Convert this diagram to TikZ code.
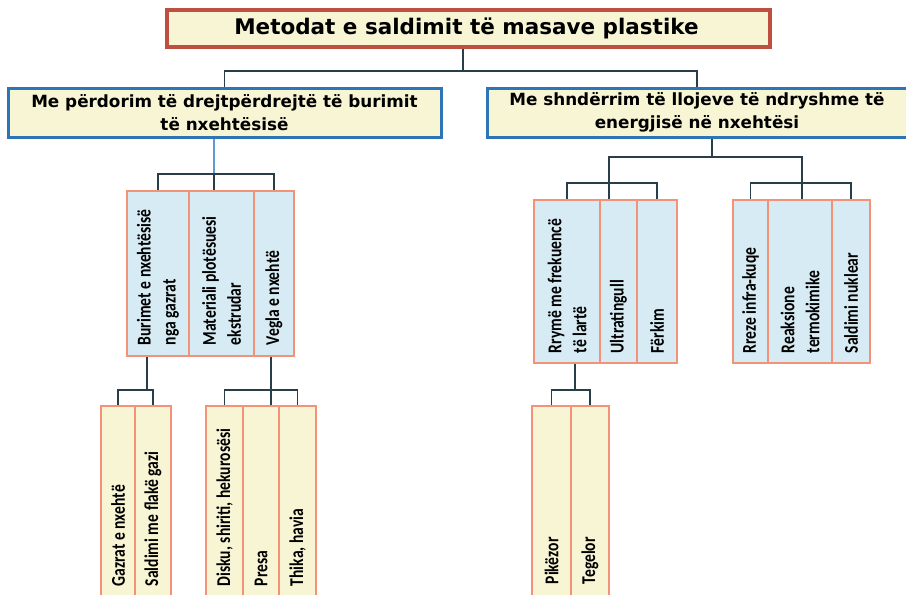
\documentclass[tikz,border=0pt]{standalone}
\usepackage{fontspec}
\usepackage{tikz}
\newfontfamily\headfont{DejaVu Sans}
\newfontfamily\cellfont[FakeStretch=0.8]{Carlito}
\definecolor{topred}{RGB}{190,80,65}
\definecolor{boxblue}{RGB}{46,117,182}
\definecolor{stemblue}{RGB}{90,155,213}
\definecolor{salmon}{RGB}{244,146,120}
\definecolor{paleyel}{RGB}{247,245,212}
\definecolor{paleblue}{RGB}{214,235,243}
\definecolor{linegray}{RGB}{40,62,72}
\newcommand{\ttl}{\headfont\bfseries\fontsize{21.5}{24}\selectfont}
\newcommand{\sub}{\headfont\bfseries\fontsize{16.8}{23}\selectfont}
\newcommand{\cel}{\cellfont\bfseries\fontsize{19.5}{25}\selectfont}

\begin{document}
\begin{tikzpicture}[x=1pt,y=-1pt,
    topbox/.style={draw=topred,line width=3.6pt,fill=paleyel,inner sep=0pt},
    subbox/.style={draw=boxblue,line width=3pt,fill=paleyel,inner sep=0pt,align=center,font=\sub},
    bluecell/.style={draw=salmon,line width=2.8pt,fill=paleblue,inner sep=0pt},
    yelcell/.style={draw=salmon,line width=2.8pt,fill=paleyel,inner sep=0pt},
    celltxt/.style={rotate=90,anchor=west,align=left,inner sep=0pt,font=\cel},
    conn/.style={draw=linegray,line width=1.6pt},
    stem/.style={draw=stemblue,line width=1.1pt}]
    \useasboundingbox (0,0) rectangle (906,595);
    % title and the two ways
    \node[topbox,minimum width=603pt,minimum height=37pt] (top) at (468.5,28.5) {};
    \node[font=\ttl] (toptxt) at (466.5,28.5) {Metodat e saldimit të masave plastike};
    \node[subbox,minimum width=433pt,minimum height=49pt] (l2a) at (224.5,112.5)
        {Me përdorim të drejtpërdrejtë të burimit\\të nxehtësisë};
    \node[subbox,minimum width=420pt,minimum height=49pt] (l2b) at (697,112.5)
        {Me shndërrim të llojeve të ndryshme të\\energjisë në nxehtësi};
    \coordinate (j1) at (463,71);
    \draw[conn] (j1|-top.south) -- (j1);
    \draw[conn] (l2a.north) |- (j1) -| (l2b.north);

    % left group, blue cells
    \node[bluecell,minimum width=62pt,minimum height=165pt] (b1) at (158,273.5) {};
    \node[bluecell,minimum width=65pt,minimum height=165pt] (b2) at (221.5,273.5) {};
    \node[bluecell,minimum width=40pt,minimum height=165pt] (b3) at (274,273.5) {};
    \node[celltxt] (tb1) at ([yshift=12pt]b1.south) {Burimet e nxehtësisë\\nga gazrat};
    \node[celltxt] (tb2) at ([yshift=12pt]b2.south) {Materiali plotësuesi\\ekstrudar};
    \node[celltxt] (tb3) at ([yshift=12pt]b3.south) {Vegla e nxehtë};
    \coordinate (jA) at (214,174);
    \draw[stem] (jA|-l2a.south) -- (jA);
    \draw[conn] (b1.north) |- (jA) -| (b3.north);
    \draw[conn] (jA) -- (jA|-b2.north);

    % right groups, blue cells
    \node[bluecell,minimum width=66pt,minimum height=163pt] (c1) at (567,281.5) {};
    \node[bluecell,minimum width=37pt,minimum height=163pt] (c2) at (618.5,281.5) {};
    \node[bluecell,minimum width=40pt,minimum height=163pt] (c3) at (657,281.5) {};
    \node[bluecell,minimum width=35pt,minimum height=163pt] (d1) at (750.5,281.5) {};
    \node[bluecell,minimum width=64pt,minimum height=163pt] (d2) at (800,281.5) {};
    \node[bluecell,minimum width=38pt,minimum height=163pt] (d3) at (851,281.5) {};
    \node[celltxt] (tc1) at ([yshift=11pt]c1.south) {Rrymë me frekuencë\\të lartë};
    \node[celltxt] (tc2) at ([yshift=11pt]c2.south) {Ultratingull};
    \node[celltxt] (tc3) at ([yshift=11pt]c3.south) {Fërkim};
    \node[celltxt] (td1) at ([yshift=11pt]d1.south) {Rreze infra-kuqe};
    \node[celltxt] (td2) at ([yshift=11pt]d2.south) {Reaksione\\termokimike};
    \node[celltxt] (td3) at ([yshift=11pt]d3.south) {Saldimi nuklear};
    \coordinate (jD) at (712,157);
    \coordinate (jE) at (609,183);
    \coordinate (jF) at (802,183);
    \draw[conn] (jD|-l2b.south) -- (jD);
    \draw[conn] (jE) |- (jD) -| (jF);
    \draw[conn] (c1.north) |- (jE) -| (c3.north);
    \draw[conn] (jE) -- (jE|-c2.north);
    \draw[conn] (d1.north) |- (jF) -| (d3.north);
    \draw[conn] (jF) -- (jF|-d2.north);

    % bottom row, yellow cells
    \node[yelcell,minimum width=34pt,minimum height=199pt] (g1) at (118,505.5) {};
    \node[yelcell,minimum width=36pt,minimum height=199pt] (g2) at (153,505.5) {};
    \node[yelcell,minimum width=37pt,minimum height=199pt] (g3) at (224.5,505.5) {};
    \node[yelcell,minimum width=36pt,minimum height=199pt] (g4) at (261,505.5) {};
    \node[yelcell,minimum width=37pt,minimum height=199pt] (g5) at (297.5,505.5) {};
    \node[yelcell,minimum width=39pt,minimum height=199pt] (e1) at (551.5,505.5) {};
    \node[yelcell,minimum width=38pt,minimum height=199pt] (e2) at (590,505.5) {};
    \node[celltxt] (tg1) at ([yshift=20pt]g1.south) {Gazrat e nxehtë};
    \node[celltxt] (tg2) at ([yshift=20pt]g2.south) {Saldimi me flakë gazi};
    \node[celltxt] (tg3) at ([yshift=20pt]g3.south) {Disku, shiriti, hekurosësi};
    \node[celltxt] (tg4) at ([yshift=20pt]g4.south) {Presa};
    \node[celltxt] (tg5) at ([yshift=20pt]g5.south) {Thika, havia};
    \node[celltxt] (te1) at ([yshift=22pt]e1.south) {Pikëzor};
    \node[celltxt] (te2) at ([yshift=22pt]e2.south) {Tegelor};
    \coordinate (jB) at (147,390);
    \coordinate (jC) at (271,390);
    \coordinate (jG) at (575,390);
    \draw[conn] (jB|-b1.south) -- (jB);
    \draw[conn] (g1.north) |- (jB) -| (g2.north);
    \draw[conn] (jC|-b3.south) -- (jC|-g4.north);
    \draw[conn] (g3.north) |- (jC) -| (g5.north);
    \draw[conn] (jG|-c1.south) -- (jG);
    \draw[conn] (e1.north) |- (jG) -| (e2.north);
\end{tikzpicture}
\end{document}
